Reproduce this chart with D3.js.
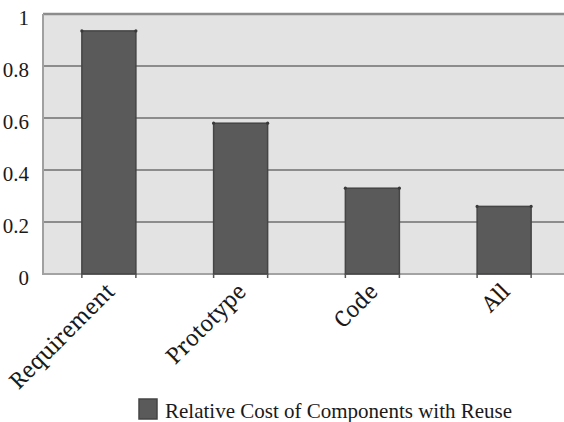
<!DOCTYPE html>
<html>
<head>
<meta charset="utf-8">
<script src="https://cdn.jsdelivr.net/npm/d3@7"></script>
<style>
  html, body { margin: 0; padding: 0; background: #ffffff; }
  svg { display: block; }
</style>
</head>
<body>
<svg id="chart" width="564" height="422"></svg>
<script>
// Relative cost of components with reuse, by artefact type
const categories = ["Requirement", "Prototype", "Code", "All"];
const values = [0.935, 0.58, 0.33, 0.26];
const yTicks = [0, 0.2, 0.4, 0.6, 0.8, 1];
const yTickLabels = ["0", "0.2", "0.4", "0.6", "0.8", "1"];
const seriesName = "Relative Cost of Components with Reuse";

const svg = d3.select("#chart");
const plot = { left: 43, right: 570, top: 14, bottom: 274 };

const x = d3.scaleBand()
  .domain(categories)
  .range([plot.left, plot.right])
  .paddingInner(0.59)
  .paddingOuter(0.295);

const y = d3.scaleLinear().domain([0, 1]).range([plot.bottom, plot.top]);

const serif = "Liberation Serif";
const labelSerif = "Noto Serif";
const barFill = "#5a5a5a";
const barStroke = "#454545";

// plot background
svg.append("rect")
  .attr("x", plot.left).attr("y", plot.top)
  .attr("width", 564 - plot.left).attr("height", plot.bottom - plot.top)
  .attr("fill", "#e3e3e3");

// horizontal gridlines
svg.append("g")
  .selectAll("line")
  .data(yTicks)
  .join("line")
  .attr("x1", plot.left).attr("x2", 564)
  .attr("y1", d => y(d)).attr("y2", d => y(d))
  .attr("stroke", d => d === 0 ? "#a3a3a3" : "#8c8c8c")
  .attr("stroke-width", d => d === 1 ? 2.5 : 2);

// left axis line
svg.append("line")
  .attr("x1", plot.left).attr("x2", plot.left)
  .attr("y1", plot.top).attr("y2", plot.bottom + 1)
  .attr("stroke", "#a0a0a0").attr("stroke-width", 2);

// y tick labels
svg.append("g")
  .selectAll("text")
  .data(yTicks)
  .join("text")
  .attr("x", 29)
  .attr("y", d => y(d) + 11)
  .attr("text-anchor", "end")
  .attr("font-family", serif)
  .attr("font-size", 21)
  .attr("fill", "#1a1a1a")
  .text((d, i) => yTickLabels[i]);

// bars
const barData = categories.map((c, i) => ({ c, v: values[i] }));
svg.append("g")
  .selectAll("rect")
  .data(barData)
  .join("rect")
  .attr("x", d => x(d.c))
  .attr("y", d => y(d.v))
  .attr("width", x.bandwidth())
  .attr("height", d => y(0) - y(d.v))
  .attr("fill", barFill)
  .attr("stroke", barStroke)
  .attr("stroke-width", 1.5);

// small edge ticks under each bar
svg.append("g")
  .selectAll("line")
  .data(barData.flatMap(d => [x(d.c), x(d.c) + x.bandwidth()]))
  .join("line")
  .attr("x1", d => d).attr("x2", d => d)
  .attr("y1", y(0)).attr("y2", y(0) + 4)
  .attr("stroke", "#555").attr("stroke-width", 1.5);

// corner dots on bar tops
svg.append("g")
  .selectAll("circle")
  .data(barData.flatMap(d => [
    { cx: x(d.c), cy: y(d.v) },
    { cx: x(d.c) + x.bandwidth(), cy: y(d.v) }
  ]))
  .join("circle")
  .attr("cx", d => d.cx).attr("cy", d => d.cy)
  .attr("r", 1.6)
  .attr("fill", "#3a3a3a");

// rotated category labels
svg.append("g")
  .selectAll("text")
  .data(categories)
  .join("text")
  .attr("transform", d => `translate(${x(d) + x.bandwidth() / 2 + 7},${plot.bottom + 19}) rotate(-45)`)
  .attr("text-anchor", "end")
  .attr("font-family", labelSerif)
  .attr("font-size", 22)
  .attr("fill", "#1a1a1a")
  .text(d => d);

// legend
const legend = svg.append("g");
legend.append("rect")
  .attr("x", 139).attr("y", 399)
  .attr("width", 18).attr("height", 20)
  .attr("fill", barFill)
  .attr("stroke", barStroke)
  .attr("stroke-width", 1.5);
legend.append("text")
  .attr("x", 165).attr("y", 418)
  .attr("font-family", serif)
  .attr("font-size", 21)
  .attr("fill", "#1a1a1a")
  .text(seriesName);
</script>
</body>
</html>
